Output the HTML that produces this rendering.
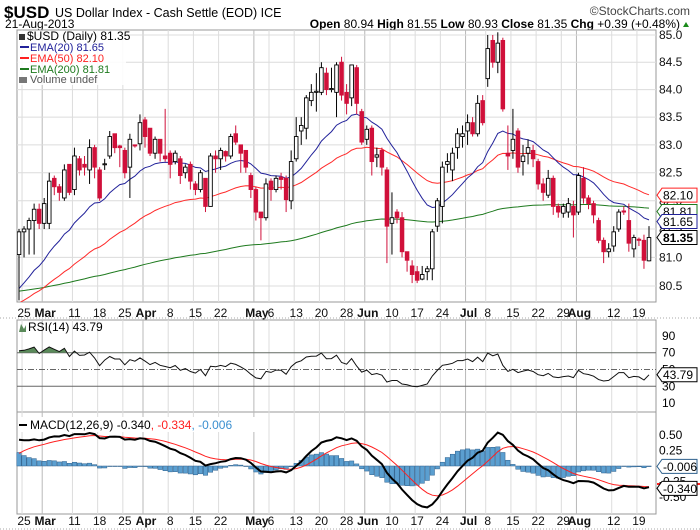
<!DOCTYPE html>
<html><head><meta charset="utf-8"><style>
body{margin:0;background:#fff;}
svg{display:block;font-family:"Liberation Sans",sans-serif;}
</style></head><body>
<svg id="c" width="700" height="530" viewBox="0 0 700 530" xmlns="http://www.w3.org/2000/svg">
<rect x="0" y="0" width="700" height="530" fill="#fff"/>
<text x="4" y="18" font-size="17" font-weight="bold">$USD</text>
<text x="55" y="17" font-size="12.5">US Dollar Index - Cash Settle (EOD) ICE</text>
<text x="690" y="15" font-size="12" text-anchor="end" fill="#444">©StockCharts.com</text>
<text x="5" y="28" font-size="12">21-Aug-2013</text>
<text x="680" y="28" font-size="12" text-anchor="end"><tspan font-weight="bold">Open</tspan> 80.94 <tspan font-weight="bold">High</tspan> 81.55 <tspan font-weight="bold">Low</tspan> 80.93 <tspan font-weight="bold">Close</tspan> 81.35 <tspan font-weight="bold">Chg</tspan> +0.39 (+0.48%)</text>
<polygon points="683,27 689,27 686,22" fill="#1a8a1a"/>
<g id="grid"></g>
<g id="main"></g>
<g id="rsi"></g>
<g id="macd"></g>
<g id="axes"></g>
</svg>
<script>
const holidays = ["2013-03-29","2013-05-27","2013-07-04"];
const opens = [81.05,81.45,81.5,81.65,81.85,81.6,81.6,82.4,82.25,82.05,
82.65,82.2,82.75,82.65,82.55,82.95,82.55,82.65,82.8,83.2,
82.98,82.9,82.6,83.0,83.02,83.45,83.3,82.85,83.1,82.8,
82.85,82.7,82.75,82.5,82.65,82.3,82.2,82.4,81.9,82.8,
82.75,82.88,82.8,83.2,83.0,82.9,82.45,82.2,81.8,81.7,
82.35,82.2,82.42,82.4,82.0,82.75,83.25,83.3,83.8,83.95,
83.95,84.3,84.0,83.95,84.5,83.95,83.85,84.4,83.6,83.1,
83.3,82.78,82.9,82.55,81.6,81.8,81.7,81.1,80.85,80.75,
80.62,80.75,80.8,81.55,81.9,82.65,82.55,82.95,83.15,83.25,
83.4,83.2,83.8,84.2,84.9,84.5,84.9,82.85,82.9,83.25,
82.7,82.85,82.9,82.7,82.3,82.1,82.4,81.9,81.78,81.8,
81.9,81.8,82.4,82.05,81.95,81.65,81.3,81.1,81.2,81.5,
81.82,81.65,81.15,81.32,81.3,80.94];
const highs = [81.5,81.55,81.7,81.95,81.95,82.05,82.5,82.45,82.3,82.65,
82.65,82.95,82.8,82.8,83.1,83.0,82.6,82.75,83.25,83.2,
83.0,82.95,83.2,83.0,83.55,83.5,83.3,83.15,83.1,83.65,
82.9,82.9,82.8,82.65,82.7,82.35,82.55,82.4,82.85,82.9,
82.95,82.9,83.2,83.35,83.0,82.9,82.5,82.25,81.8,82.4,
82.4,82.45,82.5,82.45,82.9,83.5,83.5,83.9,84.1,84.3,
84.5,84.4,84.4,84.5,84.6,84.1,84.45,84.45,83.65,83.35,
83.35,82.95,82.95,82.6,82.15,81.85,81.8,81.1,80.95,80.85,
80.85,80.85,81.5,82.05,82.7,82.85,82.95,83.3,83.35,83.55,
83.5,83.9,83.9,85.0,85.0,85.05,84.95,83.35,83.65,83.3,
83.0,83.1,83.0,82.75,82.4,82.55,82.45,81.95,81.95,82.05,
82.0,82.5,82.6,82.1,82.0,81.7,81.35,81.25,81.55,81.85,
81.9,81.95,81.4,81.35,81.4,81.55];
const lows = [80.25,81.0,81.05,81.05,81.5,81.5,81.5,82.1,82.0,82.0,
82.1,82.1,82.45,82.45,82.3,82.4,82.0,82.55,82.75,82.85,
82.6,82.4,82.05,82.95,82.9,82.95,82.8,82.75,82.7,82.7,
82.4,82.65,82.3,82.4,82.2,82.1,82.15,81.8,81.9,82.5,
82.55,82.7,82.75,83.0,82.5,82.5,82.05,81.65,81.3,81.65,
82.0,82.15,82.2,81.8,81.85,82.7,83.0,83.1,83.7,83.6,
83.9,83.9,83.95,83.5,83.8,83.55,83.7,83.55,83.0,83.0,
82.45,82.6,82.45,80.9,81.05,81.6,81.0,80.75,80.55,80.55,
80.6,80.6,80.6,81.45,81.6,82.5,82.35,82.75,82.95,83.0,
83.15,83.15,83.35,84.05,84.4,84.3,83.6,82.55,82.75,82.5,
82.45,82.65,82.6,82.2,82.0,82.05,81.75,81.7,81.7,81.7,
81.35,81.75,81.95,81.85,81.6,81.25,80.9,81.0,81.1,81.45,
81.75,81.1,81.0,81.2,80.8,80.93];
const closes = [81.45,81.5,81.65,81.85,81.6,81.95,82.35,82.25,82.15,82.55,
82.15,82.8,82.55,82.6,82.95,82.6,82.05,82.66,83.15,82.95,
82.95,82.5,83.1,82.98,83.4,83.15,82.85,83.1,82.85,82.75,
82.65,82.85,82.45,82.6,82.35,82.2,82.5,81.9,82.8,82.75,
82.9,82.8,83.15,83.05,82.85,82.6,82.2,81.8,81.7,82.3,
82.2,82.4,82.38,82.02,82.7,83.15,83.35,83.85,83.95,83.97,
84.4,84.0,84.02,84.45,83.9,83.75,84.45,83.75,83.05,83.28,
82.7,82.82,82.6,81.55,81.7,81.7,81.1,80.95,80.7,80.6,
80.7,80.8,81.45,82.0,82.6,82.7,82.85,83.2,83.2,83.4,
83.2,83.75,83.4,84.75,84.5,84.85,83.65,82.8,83.1,82.6,
82.8,82.95,82.75,82.3,82.15,82.4,81.9,81.8,81.9,81.95,
81.75,82.45,82.05,81.95,81.75,81.3,81.1,81.15,81.45,81.8,
81.8,81.25,81.35,81.3,80.95,81.35];
const priceTicks = [85.0,84.5,84.0,83.5,83.0,82.5,82.0,81.5,81.0,80.5];
const rsiTicks = [90,70,50,30,10];
const macdTicks = [0.5,0.25,-0.25,-0.5];
const macdTickLabels = ["0.50","0.25","-0.25","-0.50"];
const monthNames = ["Jan","Feb","Mar","Apr","May","Jun","Jul","Aug","Sep","Oct","Nov","Dec"];
const emaSeeds = [80.35, 80.15, 80.4];
const macdSeeds = [81.15, 80.72, 0.15];
const rsiSeeds = [0.14, 0.055];

const NS="http://www.w3.org/2000/svg";
function mk(parent, tag, attrs){const e=document.createElementNS(NS,tag);for(const k in attrs)e.setAttribute(k,attrs[k]);parent.appendChild(e);return e;}

const dates=[];
(function(){let d=new Date(Date.UTC(2013,1,22));while(dates.length<closes.length){const w=d.getUTCDay();const s=d.toISOString().slice(0,10);if(w!==0&&w!==6&&holidays.indexOf(s)<0)dates.push(new Date(d));d=new Date(d.getTime()+86400000);}})();

const L=17,R=656;
const xS=i=>19+i*((649-19)/(closes.length-1));
const yP=p=>35-4614*Math.log(p/85);
const yR=v=>411.5-v*0.84;
const yM=v=>466-v*62;

function ema(src,n,seed){const a=2/(n+1);let e=seed;return src.map(v=>(e=e+a*(v-e)));}
const ema20=ema(closes,20,emaSeeds[0]);
const ema50=ema(closes,50,emaSeeds[1]);
const ema200=ema(closes,200,emaSeeds[2]);
const e12=ema(closes,12,macdSeeds[0]), e26=ema(closes,26,macdSeeds[1]);
const macd=e12.map((v,i)=>v-e26[i]);
const signal=ema(macd,9,macdSeeds[2]);
const hist=macd.map((v,i)=>v-signal[i]);
const rsi=[];(function(){let g=rsiSeeds[0],l=rsiSeeds[1];let prev=closes[0]-0.05;closes.forEach(c=>{const ch=c-prev;prev=c;g=(g*13+Math.max(ch,0))/14;l=(l*13+Math.max(-ch,0))/14;rsi.push(100-100/(1+g/l));});})();

const grid=document.getElementById('grid'),main=document.getElementById('main'),rsiG=document.getElementById('rsi'),macdG=document.getElementById('macd'),axes=document.getElementById('axes');

[[30,302,'price-panel'],[320,412,'rsi-panel'],[412,514,'macd-panel']].forEach(p=>{
 const r=mk(grid,'rect',{x:L,y:p[0],width:R-L,height:p[1]-p[0],fill:'#fff',stroke:'#999','stroke-width':1});
 
 
});

const labels=[];
let lastMonth=-1;
dates.forEach((d,i)=>{
 if(d.getUTCMonth()!==lastMonth){ if(lastMonth>=0) labels.push({i:i,t:monthNames[d.getUTCMonth()],m:true}); lastMonth=d.getUTCMonth();}
});
dates.forEach((d,i)=>{
 if(i===0)return;
 const prev=dates[i-1];
 const weekStart=d.getUTCDay()<prev.getUTCDay();
 if(weekStart){
   if(labels.some(l=>l.m&&Math.abs(l.i-i)<=2))return;
   labels.push({i:i,t:String(d.getUTCDate()),m:false});
 }
});
labels.forEach(l=>{
 const x=xS(l.i)-2;
 [[30,302],[320,412],[412,514]].forEach(p=>{
  const ln=mk(grid,'line',{x1:x,x2:x,y1:p[0],y2:p[1],stroke:l.m?'#b8b8b8':'#dcdcdc','stroke-width':1});
  
  
 });
 [313,521].forEach(y=>{
  const t=mk(axes,'text',{x:xS(l.i)+(l.m?1:0),y:y+4,'font-size':12,'text-anchor':'middle','font-weight':l.m?'bold':'normal',fill:'#111'});
  t.textContent=l.t;
  
  
 });
});
[318,529].forEach(y=>{const ln=mk(axes,'line',{x1:0,x2:700,y1:y,y2:y,stroke:'#aaa','stroke-dasharray':'1,2'});
 
 });

priceTicks.forEach(p=>{
 const y=yP(p);
 const ln=mk(grid,'line',{x1:L,x2:R,y1:y,y2:y,stroke:'#dcdcdc'});
 
 
 const t=mk(axes,'text',{x:659,y:y+4,'font-size':12,fill:'#111'});
 t.textContent=p.toFixed(1);
 
 
});

function path(g,arr,scale,color,w,name){
 const d=arr.map((v,i)=>(i?'L':'M')+xS(i).toFixed(1)+','+scale(v).toFixed(1)).join('');
 const p=mk(g,'path',{d:d,fill:'none',stroke:color,'stroke-width':w});
 
 
 return p;
}
const clipDef=mk(document.getElementById('c'),'defs',{});
const cp=mk(clipDef,'clipPath',{id:'mainclip'});mk(cp,'rect',{x:L,y:30,width:R-L,height:272});
const mg=mk(main,'g',{'clip-path':'url(#mainclip)'});
path(mg,ema200,yP,'#1e7a1e',1,'ema200-line');
path(mg,ema50,yP,'#ff2a2a',1,'ema50-line');
path(mg,ema20,yP,'#22229a',1,'ema20-line');

closes.forEach((c,i)=>{
 const o=opens[i],x=xS(i),up=c>=o;
 const col=up?'#000':'#d0103a';
 const w=mk(mg,'line',{x1:x,x2:x,y1:yP(highs[i]),y2:yP(lows[i]),stroke:col,'stroke-width':1});
 
 
 const top=yP(Math.max(o,c)),bot=yP(Math.min(o,c));
 const b=mk(mg,'rect',{x:x-1.8,y:top,width:3.6,height:Math.max(bot-top,1),fill:up?'#fff':'#d0103a',stroke:up?'#000':'#d0103a','stroke-width':0.9});
 
 
});

const lg=mk(main,'g',{});


mk(lg,'rect',{x:L+1,y:31,width:108,height:54,fill:'#fff',opacity:0.85});
[['$USD (Daily) 81.35','#000',40],['EMA(20) 81.65','#22229a',51],['EMA(50) 82.10','#ff2020',62],['EMA(200) 81.81','#1e7a1e',73],['Volume undef','#555',83]].forEach((e,k)=>{
 const t=mk(lg,'text',{x:k===0?27:30,y:e[2],'font-size':k===0?12:11,fill:e[1]});
 t.textContent=e[0];
 
 
 if(k>0&&k<4)mk(lg,'line',{x1:20,x2:29,y1:e[2]-4,y2:e[2]-4,stroke:e[1],'stroke-width':2});
});
mk(lg,'rect',{x:19,y:34,width:6,height:6,fill:'#333'});
mk(lg,'rect',{x:19,y:77,width:8,height:6,fill:'#777'});

function tag(y,txt,color,bold,name){
 const g=mk(axes,'g',{});
 
 
 mk(g,'path',{d:`M657,${y} L662,${y-7} L697,${y-7} L697,${y+7} L662,${y+7} Z`,fill:'#fff',stroke:color,'stroke-width':1});
 const t=mk(g,'text',{x:663,y:y+4.5,'font-size':12,fill:'#000','font-weight':bold?'bold':'normal'});
 t.textContent=txt;
}
tag(yP(82.10),'82.10','#ff2020',false,'ema50-value-tag');
tag(yP(81.81),'81.81','#1e7a1e',false,'ema200-value-tag');
tag(yP(81.65)+1,'81.65','#22229a',false,'ema20-value-tag');
tag(yP(81.35),'81.35','#000',true,'close-value-tag');

const rg=rsiG;
[[70,'solid'],[30,'solid'],[50,'dash']].forEach(l=>{
 const ln=mk(rg,'line',{x1:L,x2:R,y1:yR(l[0]),y2:yR(l[0]),stroke:'#666','stroke-dasharray':l[1]==='dash'?'6,2,1,2':'none'});
 
 
});
rsiTicks.forEach(v=>{
 const t=mk(axes,'text',{x:662,y:yR(v)+4,'font-size':12});t.textContent=String(v);
 
 
});
const rcp=mk(clipDef,'clipPath',{id:'ob'});mk(rcp,'rect',{x:L,y:320,width:R-L,height:yR(70)-320});
const area='M'+xS(0)+','+yR(70)+rsi.map((v,i)=>'L'+xS(i).toFixed(1)+','+yR(v).toFixed(1)).join('')+'L'+xS(rsi.length-1)+','+yR(70)+'Z';
const ar=mk(rg,'path',{d:area,fill:'#5a8a5a','clip-path':'url(#ob)'});


path(rg,rsi,yR,'#111',1,'rsi-line');
const rl=mk(rg,'text',{x:28,y:331,'font-size':12});rl.textContent='RSI(14) 43.79';


mk(rg,'path',{d:'M19,332 L21,324 L24,329 L26,325 L26,332Z',fill:'#5a8a5a'});
tag(yR(43.79),'43.79','#000',false,'rsi-value-tag');

const hw=(xS(1)-xS(0))-0.6;
hist.forEach((v,i)=>{
 const y0=yM(0),y1=yM(v);
 const b=mk(macdG,'rect',{x:xS(i)-hw/2,y:Math.min(y0,y1),width:hw,height:Math.max(Math.abs(y1-y0),0.5),fill:'#5b9fd0',stroke:'#2c5f8c','stroke-width':0.5});
 
 
});
const mcp=mk(clipDef,'clipPath',{id:'mclip'});mk(mcp,'rect',{x:L,y:412,width:R-L,height:102});
const mg2=mk(macdG,'g',{'clip-path':'url(#mclip)'});
path(mg2,signal,yM,'#ff2020',1,'macd-signal-line');
path(mg2,macd,yM,'#000',2,'macd-line');
macdTicks.forEach((v,k)=>{
 const t=mk(axes,'text',{x:659,y:yM(v)+4,'font-size':12});t.textContent=macdTickLabels[k];
 
 
});
const mlb=mk(macdG,'rect',{x:18,y:417,width:240,height:15,fill:'#fff'});
const ml=mk(macdG,'text',{x:30,y:429,'font-size':12});


ml.innerHTML='MACD(12,26,9) -0.340<tspan fill="#ff2020">, -0.334</tspan><tspan fill="#3a8fd0">, -0.006</tspan>';
mk(macdG,'line',{x1:19,x2:27,y1:425,y2:425,stroke:'#000','stroke-width':2});
tag(yM(-0.006),'-0.006','#2c5f8c',false,'histogram-value-tag');
mk(axes,'line',{x1:657,x2:700,y1:yM(-0.29),y2:yM(-0.29),stroke:'#ff2020','stroke-width':2});
tag(yM(-0.36),'-0.340','#000',false,'macd-value-tag');
</script>
</body></html>
